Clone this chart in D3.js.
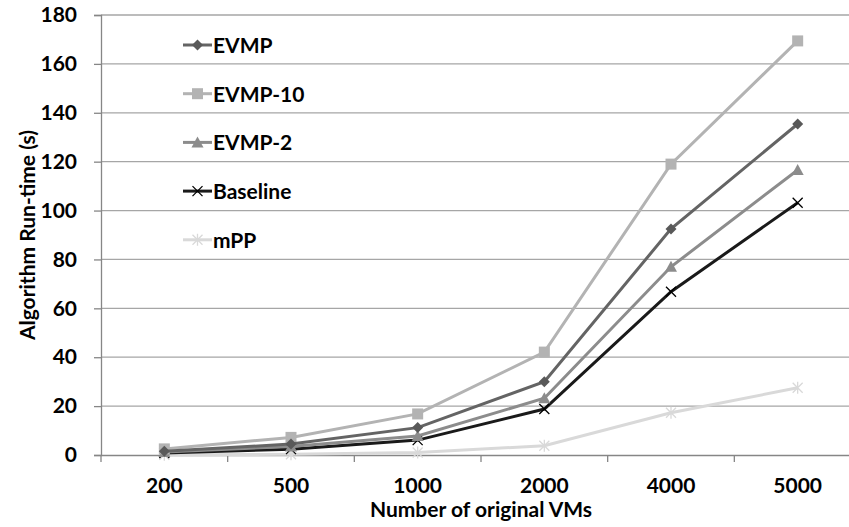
<!DOCTYPE html>
<html lang="en">
<head>
<meta charset="UTF-8">
<title>Algorithm Run-time</title>
<script src="https://d3js.org/d3.v7.min.js"></script>
<style>
  body { margin: 0; background: #fff; }
  text { font-family: Lato, "Open Sans", sans-serif; font-weight: bold; }
</style>
</head>
<body>
<script>
var categories = ["200", "500", "1000", "2000", "4000", "5000"];
var seriesNames = ["EVMP", "EVMP-10", "EVMP-2", "Baseline", "mPP"];
var evmp     = [1.5, 4.5, 11.2, 30, 92.5, 135.4];
var evmp10   = [2.5, 7.2, 16.8, 42.1, 119, 169.4];
var evmp2    = [1.2, 3.5, 7.8, 23.2, 77, 116.6];
var baseline = [0.8, 2.4, 6.1, 18.8, 66.8, 103.2];
var mpp      = [0.1, 0.3, 1.0, 3.8, 17.3, 27.5];
var yTicks = [0, 20, 40, 60, 80, 100, 120, 140, 160, 180];

var series = [
  { name: seriesNames[0], values: evmp,     color: "#646464", marker: "diamond" },
  { name: seriesNames[1], values: evmp10,   color: "#b3b3b3", marker: "square" },
  { name: seriesNames[2], values: evmp2,    color: "#8c8c8c", marker: "triangle" },
  { name: seriesNames[3], values: baseline, color: "#1a1a1a", marker: "cross" },
  { name: seriesNames[4], values: mpp,      color: "#d9d9d9", marker: "star" }
];

var width = 849, height = 527;
// the plot area runs past the right edge of the picture (cropped)
var margin = { left: 101, right: -12, top: 15, bottom: 72 };

var svg = d3.select("body").append("svg")
  .attr("width", width)
  .attr("height", height);

var x = d3.scaleBand()
  .domain(categories)
  .range([margin.left, width - margin.right]);

var y = d3.scaleLinear()
  .domain([0, 180])
  .range([height - margin.bottom, margin.top]);

// gridlines
svg.append("g")
  .selectAll("line")
  .data(yTicks.slice(1))
  .join("line")
  .attr("x1", margin.left)
  .attr("x2", width)
  .attr("y1", function (d) { return y(d); })
  .attr("y2", function (d) { return y(d); })
  .attr("stroke", "#a6a6a6")
  .attr("stroke-width", 1.3);

// y axis
var yAxis = svg.append("g")
  .attr("transform", "translate(" + margin.left + ",0)")
  .call(d3.axisLeft(y).tickValues(yTicks).tickSize(7).tickPadding(17));
yAxis.select(".domain").attr("stroke", "#868686").attr("stroke-width", 1.3);
yAxis.selectAll(".tick line").attr("stroke", "#868686").attr("stroke-width", 1.3);
yAxis.selectAll("text").attr("font-size", 21).attr("fill", "#000");

// x axis
var xAxis = svg.append("g")
  .attr("transform", "translate(0," + y(0) + ")")
  .call(d3.axisBottom(x).tickSize(0).tickPadding(23));
xAxis.select(".domain").attr("stroke", "#868686").attr("stroke-width", 1.3);
xAxis.selectAll("text").attr("font-size", 21).attr("fill", "#000");
xAxis.selectAll(".sep")
  .data(d3.range(categories.length + 1))
  .join("line")
  .attr("class", "sep")
  .attr("x1", function (i) { return margin.left + i * x.step(); })
  .attr("x2", function (i) { return margin.left + i * x.step(); })
  .attr("y1", 0)
  .attr("y2", 7)
  .attr("stroke", "#868686")
  .attr("stroke-width", 1.3);

// axis titles
svg.append("text")
  .attr("x", (margin.left + width - margin.right) / 2)
  .attr("y", 517)
  .attr("text-anchor", "middle")
  .attr("font-size", 21)
  .text("Number of original VMs");

svg.append("text")
  .attr("transform", "translate(35,235) rotate(-90)")
  .attr("text-anchor", "middle")
  .attr("font-size", 21)
  .text("Algorithm Run-time (s)");

function drawMarker(g, type, color) {
  if (type === "diamond") {
    g.append("path").attr("d", "M0,-5.5L5.5,0L0,5.5L-5.5,0Z").attr("fill", color);
  } else if (type === "square") {
    g.append("rect").attr("x", -5.5).attr("y", -5.5).attr("width", 11).attr("height", 11).attr("fill", color);
  } else if (type === "triangle") {
    g.append("path").attr("d", "M0,-6L6,5L-6,5Z").attr("fill", color);
  } else if (type === "cross") {
    g.append("path").attr("d", "M-5,-5L5,5M-5,5L5,-5").attr("stroke", color).attr("stroke-width", 1.3);
  } else if (type === "star") {
    g.append("path").attr("d", "M-5,-5L5,5M-5,5L5,-5M0,-6L0,6").attr("stroke", color).attr("stroke-width", 1.3);
  }
}

function markerColor(s) {
  if (s.marker === "diamond") return "#595959";
  if (s.marker === "cross") return "#000";
  return s.color;
}

var line = d3.line()
  .x(function (d, i) { return x(categories[i]) + x.bandwidth() / 2; })
  .y(function (d) { return y(d); });

// draw in reverse so EVMP sits on top
series.slice().reverse().forEach(function (s) {
  svg.append("path")
    .attr("d", line(s.values))
    .attr("fill", "none")
    .attr("stroke", s.color)
    .attr("stroke-width", 3);
  s.values.forEach(function (v, i) {
    var g = svg.append("g")
      .attr("transform", "translate(" + (x(categories[i]) + x.bandwidth() / 2) + "," + y(v) + ")");
    drawMarker(g, s.marker, markerColor(s));
  });
});

// legend
var legend = svg.append("g");
series.forEach(function (s, i) {
  var ly = 45 + i * 48.7;
  legend.append("line")
    .attr("x1", 183).attr("x2", 212)
    .attr("y1", ly).attr("y2", ly)
    .attr("stroke", s.color)
    .attr("stroke-width", 3);
  var g = legend.append("g").attr("transform", "translate(197.5," + ly + ")");
  drawMarker(g, s.marker, markerColor(s));
  legend.append("text")
    .attr("x", 213)
    .attr("y", ly + 8)
    .attr("font-size", 21)
    .text(s.name);
});
</script>
</body>
</html>
